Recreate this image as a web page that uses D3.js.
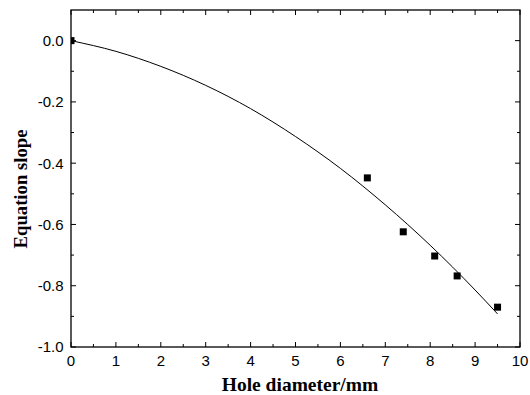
<!DOCTYPE html>
<html>
<head>
<meta charset="utf-8">
<script src="https://cdn.jsdelivr.net/npm/d3@7"></script>
<style>
  body { margin: 0; background: #fff; }
  .tick-label { font-family: 'Liberation Sans', Arial, sans-serif; font-size: 15px; fill: #000; }
  .axis-title { font-family: 'Liberation Serif', 'Times New Roman', serif; font-weight: bold; fill: #000; }
</style>
</head>
<body>
<svg width="530" height="395"></svg>
<script>
//measured points
const holeDiameter = [0, 6.6, 7.4, 8.1, 8.6, 9.5];
const slopeValue = [0.0, -0.448, -0.624, -0.703, -0.768, -0.870];

//fitted curve
const curveX = [0, 1, 2, 3, 4, 5, 6, 7, 8, 9, 9.5];
const curveY = [0, -0.035, -0.084, -0.146, -0.222, -0.313, -0.417, -0.536, -0.668, -0.814, -0.892];

//ticks
const xTicks = [0, 1, 2, 3, 4, 5, 6, 7, 8, 9, 10];
const xMinorTicks = [0.5, 1.5, 2.5, 3.5, 4.5, 5.5, 6.5, 7.5, 8.5, 9.5];
const yTicks = [0.0, -0.2, -0.4, -0.6, -0.8, -1.0];
const yMinorTicks = [-0.1, -0.3, -0.5, -0.7, -0.9];

const svg = d3.select('svg');

const plotLeft = 71, plotRight = 520, plotTop = 10, plotBottom = 347;

const xScale = d3.scaleLinear().domain([0, 10]).range([plotLeft, plotRight]);
const yScale = d3.scaleLinear().domain([-1.0, 0.1]).range([plotBottom, plotTop]);

const fmtY = d => d3.format('.1f')(d).replace('−', '-');

//frame
svg.append('rect')
    .attr('x', plotLeft).attr('y', plotTop)
    .attr('width', plotRight - plotLeft).attr('height', plotBottom - plotTop)
    .attr('fill', 'none').attr('stroke', '#000').attr('stroke-width', 1.3);

//ticks on all four sides, pointing inward
const tickG = svg.append('g').attr('stroke', '#000').attr('stroke-width', 1);

const addXTicks = (vals, len) => {
    vals.forEach(v => {
        const x = xScale(v);
        tickG.append('line').attr('x1', x).attr('x2', x).attr('y1', plotBottom).attr('y2', plotBottom - len);
        tickG.append('line').attr('x1', x).attr('x2', x).attr('y1', plotTop).attr('y2', plotTop + len);
    });
};
const addYTicks = (vals, len) => {
    vals.forEach(v => {
        const y = yScale(v);
        tickG.append('line').attr('x1', plotLeft).attr('x2', plotLeft + len).attr('y1', y).attr('y2', y);
        tickG.append('line').attr('x1', plotRight).attr('x2', plotRight - len).attr('y1', y).attr('y2', y);
    });
};
addXTicks(xTicks, 5);
addXTicks(xMinorTicks, 3);
addYTicks(yTicks, 5);
addYTicks(yMinorTicks, 3);

//tick labels
svg.append('g').selectAll('text').data(xTicks)
    .enter().append('text')
        .attr('class', 'tick-label')
        .attr('x', d => xScale(d))
        .attr('y', 366)
        .attr('text-anchor', 'middle')
        .text(d => d);

svg.append('g').selectAll('text').data(yTicks)
    .enter().append('text')
        .attr('class', 'tick-label')
        .attr('x', plotLeft - 7.5)
        .attr('y', d => yScale(d))
        .attr('dy', '0.36em')
        .attr('text-anchor', 'end')
        .text(fmtY);

//clip marks to the plot area
svg.append('clipPath').attr('id', 'plot')
    .append('rect')
    .attr('x', plotLeft).attr('y', plotTop)
    .attr('width', plotRight - plotLeft).attr('height', plotBottom - plotTop);

const plot = svg.append('g').attr('clip-path', 'url(#plot)');

const line = d3.line()
    .x(d => xScale(d[0]))
    .y(d => yScale(d[1]))
    .curve(d3.curveMonotoneX);

plot.append('path')
    .datum(curveX.map((x, i) => [x, curveY[i]]))
    .attr('d', line)
    .attr('fill', 'none')
    .attr('stroke', '#000')
    .attr('stroke-width', 1);

const size = 7;
plot.selectAll('rect.pt').data(holeDiameter)
    .enter().append('rect')
        .attr('class', 'pt')
        .attr('x', d => xScale(d) - size / 2)
        .attr('y', (d, i) => yScale(slopeValue[i]) - size / 2)
        .attr('width', size)
        .attr('height', size)
        .attr('fill', '#000');

//axis titles
svg.append('text')
    .attr('class', 'axis-title')
    .attr('x', 300)
    .attr('y', 391)
    .attr('text-anchor', 'middle')
    .style('font-size', '19.5px')
    .text('Hole diameter/mm');

svg.append('text')
    .attr('class', 'axis-title')
    .attr('transform', 'translate(27, 189) rotate(-90)')
    .attr('text-anchor', 'middle')
    .style('font-size', '18.7px')
    .text('Equation slope');
</script>
</body>
</html>
